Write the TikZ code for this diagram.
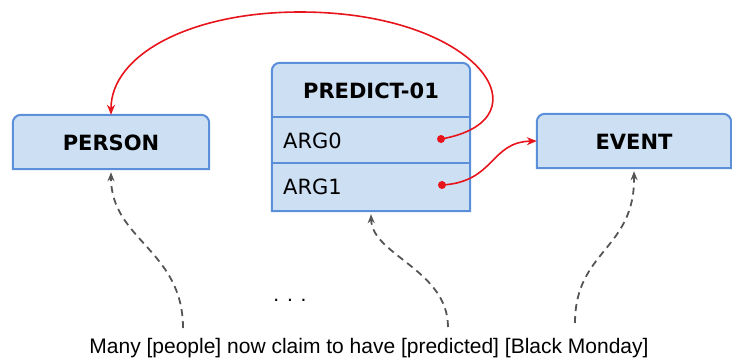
\documentclass[tikz,border=0pt]{standalone}
\usepackage{fontspec}
\setmainfont{Liberation Sans}
\newfontfamily\labelfont{DejaVu Sans}
\usetikzlibrary{arrows.meta}

\definecolor{boxfill}{HTML}{CDDFF3}
\definecolor{boxline}{HTML}{5B8FD9}
\definecolor{linkred}{HTML}{E8141C}
\definecolor{anchorgray}{HTML}{555555}

\tikzset{
  x=1pt, y=-1pt,
  boxlabel/.style={font=\labelfont\bfseries\fontsize{21}{25}\selectfont, text=black, inner sep=0pt},
  rowlabel/.style={font=\labelfont\fontsize{21}{25}\selectfont, text=black, inner sep=0pt, anchor=west},
  frame/.style={minimum width=#1, minimum height=54pt, inner sep=0pt},
  outline/.style={fill=boxfill, draw=boxline, line width=2pt},
  shade/.style={fill=black!45, opacity=0.5},
  reddot/.style={circle, fill=linkred, inner sep=0pt, minimum size=8pt},
  rolelink/.style={draw=linkred, line width=1.6pt, -{Stealth[length=10pt, width=8pt]}},
  anchorlink/.style={draw=anchorgray, line width=1.8pt, dash pattern=on 7pt off 5pt,
    -{Stealth[length=9pt, width=7pt, open]}},
  sentence/.style={font=\fontsize{21}{25}\selectfont, inner sep=0pt, anchor=base}
}

% outline of a rectangular node with rounded top corners only
\newcommand{\topround}[2]{% #1 style, #2 node name
  \path[#1] (#2.south west) -- ([yshift=-8pt]#2.north west)
    .. controls ([yshift=-3.6pt]#2.north west) and ([xshift=3.6pt]#2.north west) .. ([xshift=8pt]#2.north west)
    -- ([xshift=-8pt]#2.north east)
    .. controls ([xshift=-3.6pt]#2.north east) and ([yshift=-3.6pt]#2.north east) .. ([yshift=-8pt]#2.north east)
    -- (#2.south east) -- cycle;}

\begin{document}
\begin{tikzpicture}
\useasboundingbox (0,0) rectangle (732,357);

% frames (invisible) carrying the geometry
\node[frame=196pt] (person) at (111,142) {};
\node[frame=194pt] (event) at (634,141) {};
\node[minimum width=198pt, minimum height=148pt, inner sep=0pt] (predict) at (371,137) {};
\coordinate (row0top) at (272,117);
\coordinate (row1top) at (272,163);

% shadows
\begin{scope}[xshift=3pt, yshift=-3pt]
  \topround{shade}{person}
  \topround{shade}{predict}
  \topround{shade}{event}
\end{scope}

% boxes
\topround{outline}{person}
\topround{outline}{predict}
\topround{outline}{event}
\draw[boxline, line width=2pt] (row0top) -- (row0top -| predict.east);
\draw[boxline, line width=2pt] (row1top) -- (row1top -| predict.east);

% labels
\node[boxlabel] (personlbl) at ([yshift=-1pt]person.center) {PERSON};
\node[boxlabel] (eventlbl) at ([yshift=-1pt]event.center) {EVENT};
\node[boxlabel] (predlbl) at (371,91) {PREDICT-01};
\node[rowlabel] (arg0) at (283,141) {ARG0};
\node[rowlabel] (arg1) at (283,187) {ARG1};

% role links
\node[reddot] (dot0) at (441,139) {};
\node[reddot] (dot1) at (442,185) {};
\coordinate (arctop) at (300,12);
\draw[rolelink] (dot0.center) .. controls (550,120) and (480,12) .. (arctop)
  .. controls (190,12) and (111,55) .. (person.north);
\draw[rolelink] (dot1.center) .. controls (495,182) and (490,142) .. (event.west);

% sentence and anchors
\node[sentence] (sent) at (369,353) {Many [people] now claim to have [predicted] [Black Monday]};
\node[font=\fontsize{21}{25}\selectfont, inner sep=0pt] (dots) at (290,300) {. . .};
\coordinate (wpeople) at (183,328);
\coordinate (wpredicted) at (448,327);
\coordinate (wblack) at (575,323);
\draw[anchorlink] (wpeople) .. controls (183,250) and (111,240) .. ([yshift=-3pt]person.south);
\draw[anchorlink] (wpredicted) .. controls (448,270) and (372,255) .. ([yshift=-3pt]predict.south);
\draw[anchorlink] (wblack) .. controls (575,250) and (635,250) .. ([yshift=-3pt]event.south);
\end{tikzpicture}
\end{document}
